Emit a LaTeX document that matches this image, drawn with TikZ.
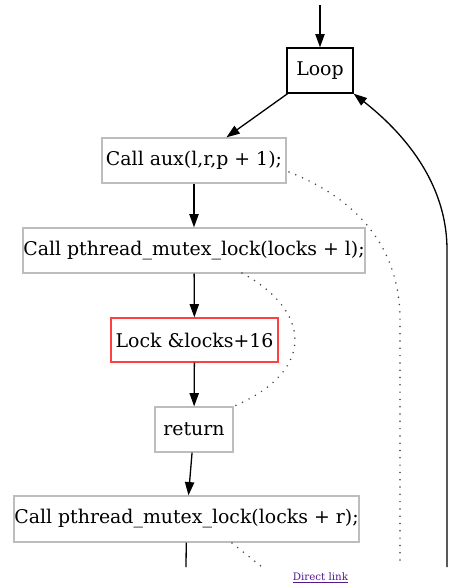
\documentclass[tikz,border=0pt]{standalone}
\usepackage{fontspec}
\setmainfont{DejaVu Serif}
\usetikzlibrary{arrows.meta}
\definecolor{boxgray}{HTML}{BDBDBD}
\definecolor{boxred}{HTML}{FF4040}
\definecolor{dotgray}{HTML}{444444}
\definecolor{linkpurple}{HTML}{551A8B}
\tikzset{
  stmt/.style={draw=boxgray, line width=1.3pt, rectangle, inner sep=0pt},
  lockbox/.style={draw=boxred, line width=1.3pt, rectangle, inner sep=0pt},
  loopbox/.style={draw=black, line width=1.3pt, rectangle, inner sep=0pt},
  txt/.style={font=\fontsize{18.9}{22}\selectfont},
  arr/.style={line width=1.3pt, -{Triangle[length=13.3pt,width=9.3pt]}},
  plain/.style={line width=1.3pt},
  dotline/.style={dotgray, line width=1.7pt, line cap=round, dash pattern=on 0pt off 7.3pt},
}
\begin{document}
\begin{tikzpicture}[x=1pt,y=-1pt]
\useasboundingbox (0,0) rectangle (463,587);

\node[loopbox, minimum width=66pt, minimum height=45pt, label={[txt]center:Loop}] (loop) at (320,70.5) {};
\node[stmt, minimum width=184pt, minimum height=45pt, label={[txt]center:Call aux(l,r,p + 1);}] (aux) at (194,160.5) {};
\node[stmt, minimum width=342pt, minimum height=45pt, label={[txt]center:Call pthread\_mutex\_lock(locks + l);}] (l1) at (194,250.5) {};
\node[lockbox, minimum width=167pt, minimum height=44pt, label={[txt]center:Lock \&locks+16}] (lock) at (194.5,340) {};
\node[stmt, minimum width=78pt, minimum height=45pt, label={[txt]center:return}] (ret) at (194,429.5) {};
\node[stmt, minimum width=345pt, minimum height=46pt, label={[txt]center:Call pthread\_mutex\_lock(locks + r);}] (l2) at (186.5,519) {};

\node[font=\fontsize{10.3}{12}\selectfont, text=linkpurple, inner sep=0pt] (link) at (320.5,578) {\underline{Direct link}};

\coordinate (top) at (320,5);
\coordinate (l2end) at (186,567);
\coordinate (backstart) at (447,567);
\coordinate (auxdotend) at (400,567);
\coordinate (l2dotstart) at (232,543);
\coordinate (l2dotend) at (262,567);
\coordinate (auxdotstart) at (289,172);
\coordinate (l1dotstart) at (242,273);

\draw[arr] (top) -- (loop);
\draw[arr] (loop) -- (aux);
\draw[arr] (aux) -- (l1);
\draw[arr] (l1) -- (lock);
\draw[arr] (lock) -- (ret);
\draw[arr] (ret) -- (l2);
\draw[plain] (l2) -- (l2end);

\draw[arr] (backstart) -- (447,250) .. controls (447,180) and (400,130) .. (loop.south east);

\draw[dotline] (auxdotstart) .. controls (360,200) and (400,250) .. (400,320) -- (auxdotend);
\draw[dotline] (l1dotstart) .. controls (310,310) and (318,370) .. (ret.north east);
\draw[dotline] (l2dotstart) -- (l2dotend);
\end{tikzpicture}
\end{document}
